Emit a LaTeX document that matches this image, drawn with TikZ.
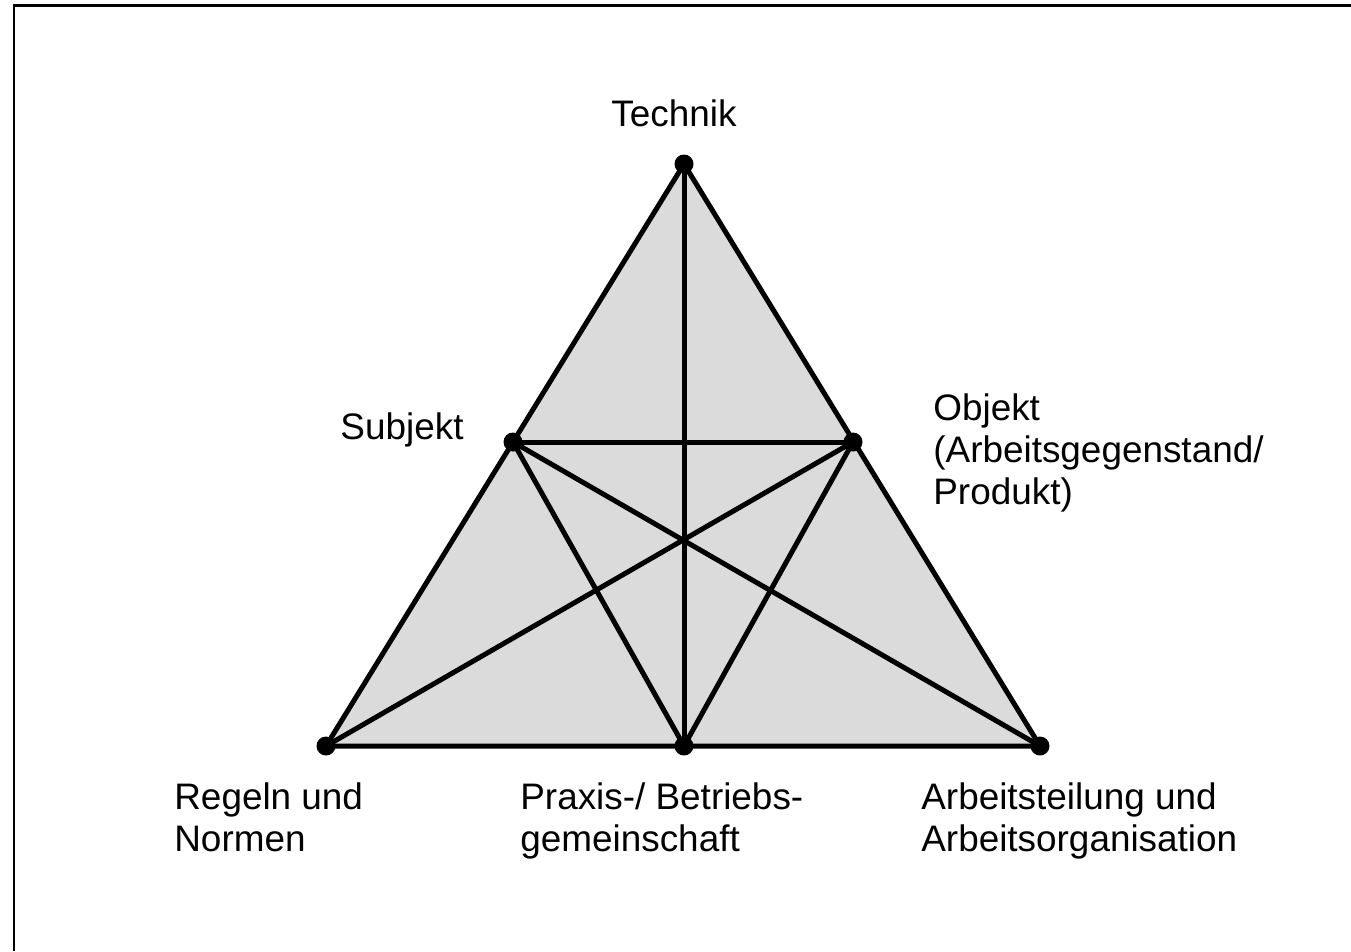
\documentclass[tikz,border=0pt]{standalone}
\usepackage{fontspec}
\setmainfont{Liberation Sans}
\begin{document}
\begin{tikzpicture}[x={(0.02cm,0)},y={(0,-0.02cm)},
  edge/.style={line width=0.1cm,line cap=round},
  dotnode/.style={circle,fill=black,inner sep=0pt,minimum size=0.38cm},
  lbl/.style={inner sep=0pt,font=\fontsize{21}{24}\selectfont},
  lbll/.style={lbl,anchor=west,align=left}]
\useasboundingbox (0,0) rectangle (1351,951);
\draw[line width=0.06cm] (14,951) -- (14,5) -- (1351,5);
\coordinate (T) at (684,164);
\coordinate (S) at (513,442);
\coordinate (O) at (853,442);
\coordinate (R) at (326,746);
\coordinate (P) at (684,746);
\coordinate (A) at (1040,746);
\fill[gray!28] (T) -- (R) -- (A) -- cycle;
\draw[edge,line join=round] (T) -- (R) -- (A) -- cycle;
\draw[edge] (S) -- (O);
\draw[edge] (S) -- (P);
\draw[edge] (O) -- (P);
\draw[edge] (T) -- (P);
\draw[edge] (S) -- (A);
\draw[edge] (O) -- (R);
\foreach \n in {T,S,O,R,P,A} \node[dotnode] (d\n) at (\n) {};
\node[lbl] (lT) at (674,113) {Technik};
\node[lbl] (lS) at (402,430) {Subjekt};
\node[lbll] (lO) at (933,453) {Objekt\\(Arbeitsgegenstand/\\Produkt)};
\node[lbll] (lR) at (174,817) {Regeln und\\Normen};
\node[lbll] (lP) at (520,821) {Praxis-/ Betriebs-\\gemeinschaft};
\node[lbll] (lA) at (921,821) {Arbeitsteilung und\\Arbeitsorganisation};
\end{tikzpicture}
\end{document}
